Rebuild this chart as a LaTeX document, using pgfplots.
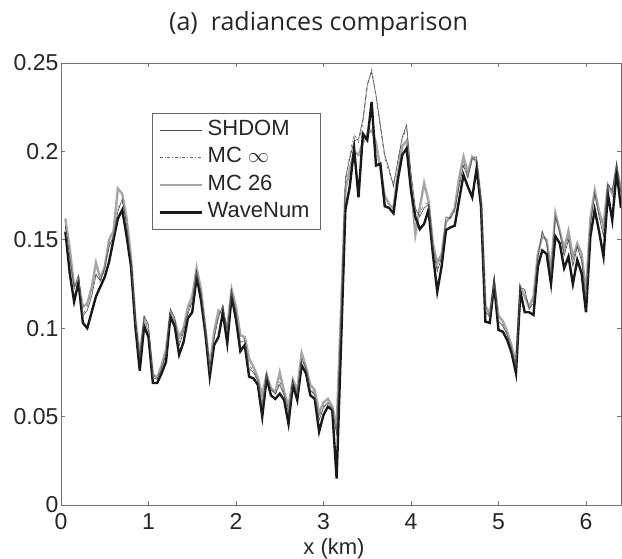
\documentclass[border=0pt]{standalone}
\usepackage{pgfplots}
\usepackage{pgfplotstable}
\pgfplotsset{compat=1.18}
\usepackage{fontspec}
\setmainfont{Liberation Sans}
\newfontfamily\titlefont{Open Sans}

\pgfplotstableread{
x shdom mcinf mc26 wave
0.05 0.158 0.157 0.162 0.1546
0.10 0.140 0.139 0.145 0.131
0.15 0.123 0.122 0.124 0.115
0.20 0.130 0.129 0.125 0.126
0.25 0.107 0.108 0.112 0.103
0.30 0.110 0.112 0.114 0.100
0.35 0.118 0.120 0.123 0.109
0.40 0.130 0.131 0.137 0.118
0.45 0.127 0.126 0.128 0.1235
0.50 0.134 0.133 0.135 0.129
0.55 0.146 0.148 0.150 0.1376
0.60 0.152 0.153 0.155 0.150
0.65 0.166 0.168 0.179 0.162
0.70 0.173 0.172 0.176 0.167
0.75 0.158 0.160 0.162 0.152
0.80 0.138 0.139 0.140 0.135
0.85 0.104 0.103 0.105 0.101
0.90 0.084 0.083 0.085 0.076
0.95 0.107 0.106 0.104 0.101
1.00 0.102 0.100 0.097 0.095
1.05 0.072 0.073 0.074 0.069
1.10 0.071 0.072 0.072 0.069
1.15 0.077 0.078 0.079 0.0745
1.20 0.085 0.086 0.088 0.081
1.25 0.111 0.110 0.108 0.1065
1.30 0.106 0.105 0.104 0.101
1.35 0.090 0.092 0.095 0.085
1.40 0.098 0.099 0.100 0.092
1.45 0.108 0.110 0.112 0.1056
1.50 0.115 0.116 0.118 0.109
1.55 0.131 0.132 0.134 0.129
1.60 0.120 0.121 0.122 0.116
1.65 0.099 0.100 0.100 0.097
1.70 0.076 0.077 0.078 0.0726
1.75 0.094 0.096 0.098 0.0905
1.80 0.106 0.107 0.110 0.095
1.85 0.113 0.112 0.108 0.109
1.90 0.098 0.099 0.100 0.0915
1.95 0.120 0.121 0.122 0.118
2.00 0.109 0.110 0.112 0.105
2.05 0.092 0.094 0.096 0.087
2.10 0.093 0.094 0.095 0.0905
2.15 0.077 0.079 0.083 0.0726
2.20 0.075 0.076 0.078 0.0716
2.25 0.070 0.071 0.072 0.068
2.30 0.056 0.058 0.062 0.050
2.35 0.073 0.074 0.074 0.0716
2.40 0.065 0.066 0.066 0.062
2.45 0.063 0.062 0.064 0.060
2.50 0.068 0.070 0.075 0.063
2.55 0.062 0.063 0.064 0.0594
2.60 0.052 0.054 0.056 0.046
2.65 0.070 0.070 0.071 0.068
2.70 0.063 0.064 0.065 0.0594
2.75 0.082 0.083 0.086 0.079
2.80 0.077 0.078 0.078 0.0745
2.85 0.065 0.066 0.068 0.062
2.90 0.062 0.063 0.065 0.060
2.95 0.048 0.050 0.052 0.0415
3.00 0.055 0.056 0.058 0.051
3.05 0.058 0.057 0.060 0.0556
3.10 0.054 0.055 0.056 0.0537
3.15 0.040 0.042 0.044 0.015
3.20 0.105 0.108 0.110 0.090
3.25 0.185 0.182 0.178 0.167
3.30 0.196 0.198 0.190 0.180
3.35 0.206 0.210 0.200 0.2017
3.40 0.207 0.205 0.198 0.174
3.45 0.218 0.216 0.205 0.210
3.50 0.238 0.236 0.210 0.2064
3.55 0.245 0.247 0.212 0.228
3.60 0.232 0.230 0.205 0.192
3.65 0.215 0.213 0.190 0.193
3.70 0.198 0.196 0.175 0.169
3.75 0.190 0.188 0.170 0.168
3.80 0.180 0.182 0.168 0.165
3.85 0.195 0.194 0.188 0.184
3.90 0.208 0.207 0.203 0.198
3.95 0.215 0.213 0.206 0.2017
4.00 0.188 0.185 0.180 0.178
4.05 0.168 0.166 0.153 0.163
4.10 0.163 0.165 0.168 0.156
4.15 0.168 0.170 0.182 0.159
4.20 0.170 0.171 0.172 0.167
4.25 0.146 0.147 0.148 0.142
4.30 0.132 0.134 0.137 0.1207
4.35 0.140 0.141 0.142 0.135
4.40 0.163 0.161 0.160 0.1555
4.45 0.162 0.163 0.163 0.157
4.50 0.167 0.166 0.168 0.158
4.55 0.180 0.182 0.185 0.1725
4.60 0.192 0.194 0.197 0.1867
4.65 0.185 0.186 0.188 0.180
4.70 0.196 0.195 0.197 0.174
4.75 0.197 0.196 0.194 0.1905
4.80 0.171 0.172 0.172 0.169
4.85 0.110 0.112 0.113 0.1037
4.90 0.106 0.107 0.108 0.103
4.95 0.126 0.127 0.126 0.1245
5.00 0.104 0.105 0.107 0.099
5.05 0.101 0.102 0.104 0.098
5.10 0.096 0.097 0.098 0.0933
5.15 0.088 0.089 0.090 0.086
5.20 0.078 0.079 0.080 0.0745
5.25 0.123 0.124 0.123 0.1207
5.30 0.122 0.121 0.118 0.109
5.35 0.111 0.110 0.112 0.109
5.40 0.114 0.116 0.118 0.1075
5.45 0.140 0.141 0.142 0.135
5.50 0.155 0.154 0.152 0.144
5.55 0.148 0.149 0.150 0.142
5.60 0.130 0.131 0.133 0.125
5.65 0.163 0.164 0.165 0.152
5.70 0.154 0.155 0.155 0.148
5.75 0.141 0.143 0.145 0.134
5.80 0.150 0.152 0.155 0.1405
5.85 0.135 0.137 0.140 0.125
5.90 0.146 0.147 0.148 0.1386
5.95 0.138 0.140 0.142 0.131
6.00 0.116 0.118 0.120 0.109
6.05 0.158 0.160 0.162 0.152
6.10 0.176 0.177 0.178 0.167
6.15 0.163 0.164 0.166 0.1546
6.20 0.152 0.155 0.158 0.1405
6.25 0.181 0.182 0.181 0.176
6.30 0.178 0.177 0.176 0.161
6.35 0.193 0.192 0.191 0.1885
6.40 0.176 0.177 0.178 0.168
}\radtable

\begin{document}
\begin{tikzpicture}
\useasboundingbox (-61pt,-53pt) rectangle (561pt,505pt);
\begin{axis}[
  scale only axis,
  width=560pt, height=442pt,
  xmin=0, xmax=6.4, ymin=0, ymax=0.25,
  xtick={0,1,2,3,4,5,6},
  ytick={0,0.05,0.1,0.15,0.2,0.25},
  yticklabels={0,0.05,0.1,0.15,0.2,0.25},
  scaled y ticks=false,
  /pgf/number format/assume math mode=true,
  tick align=inside,
  major tick length=4pt,
  axis line style={black!55, line width=0.8pt},
  tick style={black!55, line width=0.8pt},
  ticklabel style={font=\fontsize{23}{23}\selectfont, text=black!85},
  xticklabel style={yshift=-5pt},
  yticklabel style={xshift=1pt},
  xlabel={x (km)},
  xlabel style={font=\fontsize{22}{22}\selectfont, text=black!85, at={(0.4875,0)}, anchor=base, yshift=-49pt},
  title={\titlefont (a)\ \ radiances comparison},
  title style={font=\fontsize{25}{25}\selectfont, text=black!85, at={(0.46,1)}, anchor=base, yshift=27pt},
  legend style={at={(0.1625,0.887)}, anchor=north west, draw=black!60, line width=0.6pt,
    font=\fontsize{22}{22}\selectfont, text=black!85, row sep=0pt, inner xsep=6pt, inner ysep=3pt,
    nodes={text height=16pt, text depth=5.5pt, inner ysep=3pt, inner xsep=5pt}},
  legend cell align=left,
  legend image code/.code={\draw[#1] (0pt,0pt) -- (37pt,0pt); \path (0pt,0pt) -- (42pt,0pt);},
]
\addlegendimage{black!70, line width=0.6pt}
\addlegendentry{SHDOM}
\addlegendimage{black!60, line width=0.6pt, dash dot}
\addlegendentry{MC $\infty$}
\addlegendimage{black!35, line width=2.4pt}
\addlegendentry{MC 26}
\addlegendimage{black!90, line width=2.4pt}
\addlegendentry{WaveNum}

\addplot[forget plot, black!35, line width=2.4pt] table[x=x, y=mc26] {\radtable};
\addplot[forget plot, black!90, line width=2.4pt] table[x=x, y=wave] {\radtable};
\addplot[forget plot, black!70, line width=0.6pt] table[x=x, y=shdom] {\radtable};
\addplot[forget plot, black!60, line width=0.6pt, dash dot] table[x=x, y=mcinf] {\radtable};
\end{axis}
\end{tikzpicture}
\end{document}
